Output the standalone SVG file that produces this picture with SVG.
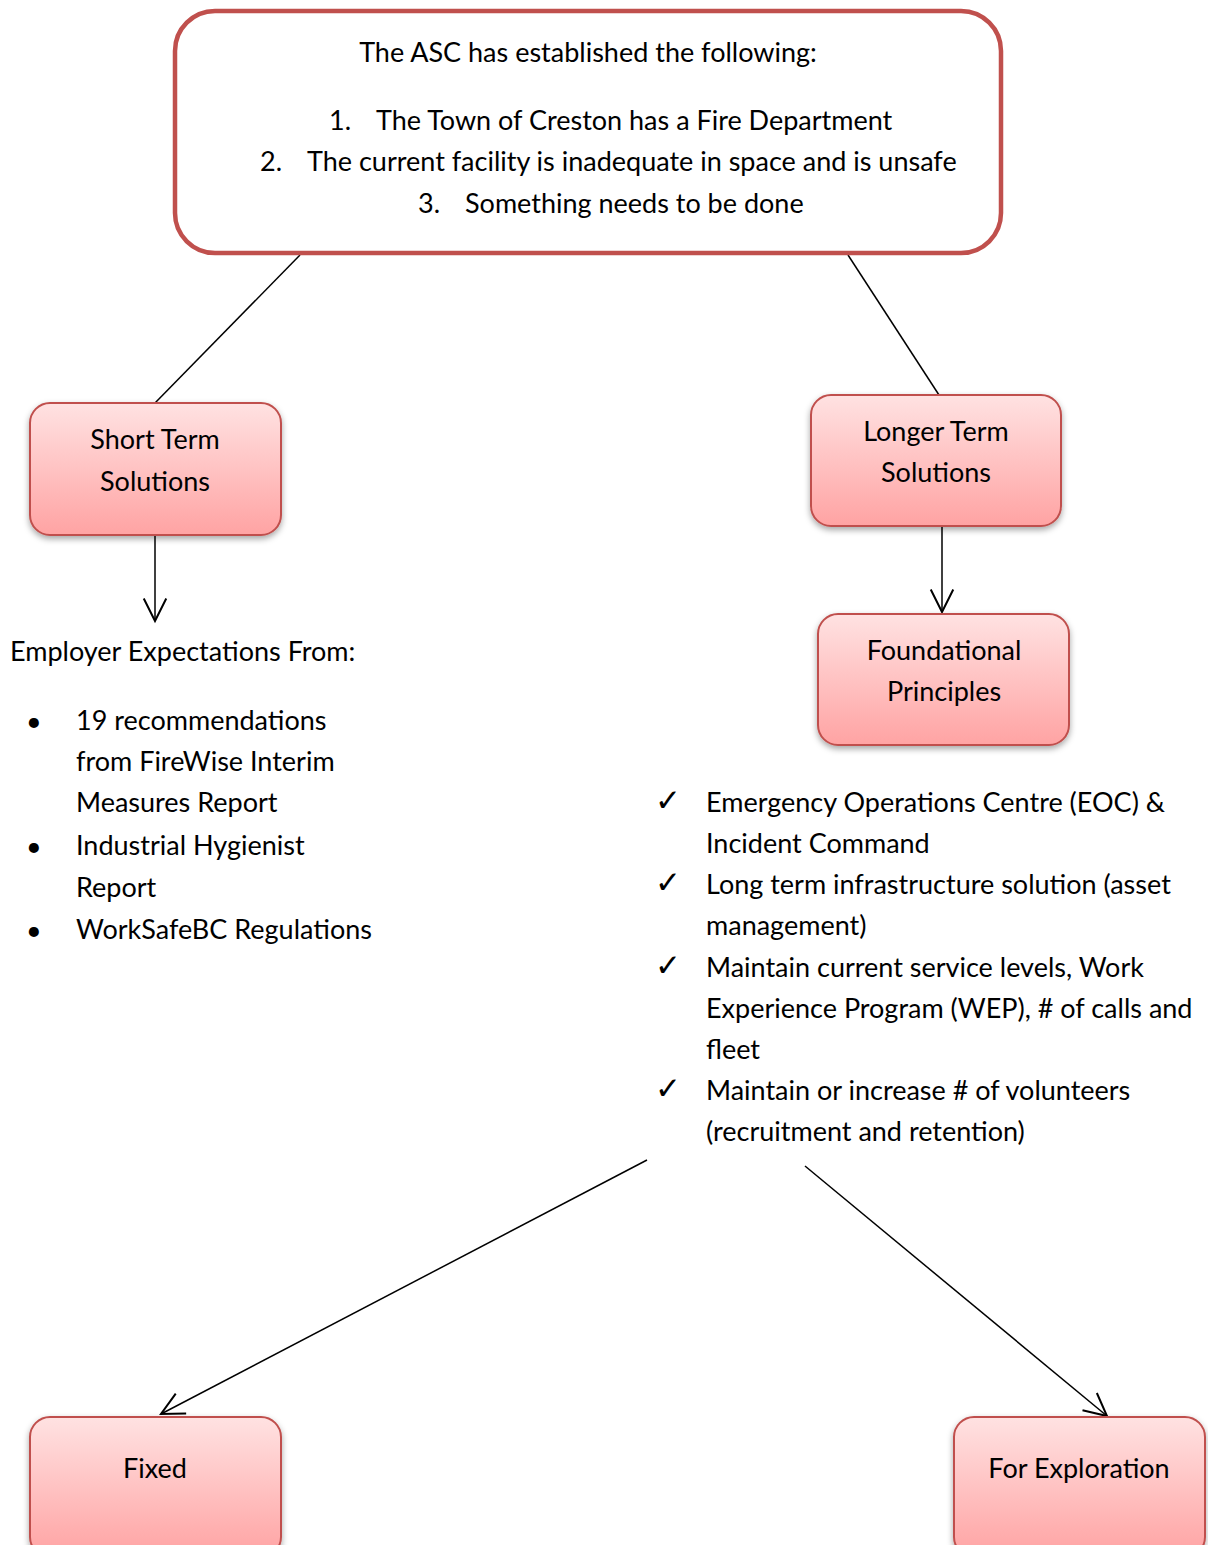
<svg xmlns="http://www.w3.org/2000/svg" width="1208" height="1545" viewBox="0 0 1208 1545">
<defs>
<linearGradient id="pink" x1="0" y1="0" x2="0" y2="1">
<stop offset="0" stop-color="#FFE2E2"/>
<stop offset="1" stop-color="#FFA3A3"/>
</linearGradient>
<filter id="sh" x="-10%" y="-10%" width="120%" height="130%">
<feDropShadow dx="0" dy="3" stdDeviation="3" flood-color="#000" flood-opacity="0.35"/>
</filter>
<marker id="ah" markerUnits="userSpaceOnUse" markerWidth="30" markerHeight="30" viewBox="-20 -12 24 24" refX="0" refY="0" orient="auto">
<path d="M-18,-9 L0,0 L-18,9" fill="none" stroke="#000" stroke-width="1.6"/>
</marker>
<style>
text{font-family:Lato,"Liberation Sans",sans-serif;font-size:27px;fill:#000}
.c{text-anchor:middle}
.ck{font-family:"DejaVu Sans",sans-serif;font-size:31px}
.box{fill:url(#pink);stroke:#C0504D;stroke-width:2;filter:url(#sh)}
.ln{stroke:#000;stroke-width:1.5;fill:none}
</style>
</defs>
<g id="connectors">
<line class="ln" x1="300" y1="255" x2="155" y2="403"/>
<line class="ln" x1="848" y1="255" x2="939" y2="395"/>
<line class="ln" x1="155" y1="535" x2="155" y2="621" marker-end="url(#ah)"/>
<line class="ln" x1="942" y1="526" x2="942" y2="612" marker-end="url(#ah)"/>
<line class="ln" x1="647" y1="1160" x2="161" y2="1414" marker-end="url(#ah)"/>
<line class="ln" x1="805" y1="1166" x2="1107" y2="1416" marker-end="url(#ah)"/>
</g>
<g id="top">
<rect x="175" y="11" width="826" height="242" rx="40" fill="#fff" stroke="#C0504D" stroke-width="4.5"/>
<text x="588" y="62" class="c">The ASC has established the following:</text>
<text x="329" y="130">1.</text><text x="376" y="130">The Town of Creston has a Fire Department</text>
<text x="260" y="171">2.</text><text x="307" y="171">The current facility is inadequate in space and is unsafe</text>
<text x="418" y="213">3.</text><text x="465" y="213">Something needs to be done</text>
</g>
<g id="short">
<rect class="box" x="30" y="403" width="251" height="132" rx="20"/>
<text x="155" y="449" class="c">Short Term</text>
<text x="155" y="491" class="c">Solutions</text>
</g>
<g id="longer">
<rect class="box" x="811" y="395" width="250" height="131" rx="20"/>
<text x="936" y="441" class="c">Longer Term</text>
<text x="936" y="482" class="c">Solutions</text>
</g>
<g id="foundational">
<rect class="box" x="818" y="614" width="251" height="131" rx="20"/>
<text x="944" y="660" class="c">Foundational</text>
<text x="944" y="701" class="c">Principles</text>
</g>
<g id="fixed">
<rect class="box" x="30" y="1417" width="251" height="140" rx="20"/>
<text x="155" y="1478" class="c">Fixed</text>
</g>
<g id="exploration">
<rect class="box" x="954" y="1417" width="251" height="140" rx="20"/>
<text x="1079" y="1478" class="c">For Exploration</text>
</g>
<g id="employer">
<text x="10" y="661">Employer Expectations From:</text>
<text x="26" y="731">•</text><text x="76" y="730">19 recommendations</text>
<text x="76" y="771">from FireWise Interim</text>
<text x="76" y="812">Measures Report</text>
<text x="26" y="856">•</text><text x="76" y="855">Industrial Hygienist</text>
<text x="76" y="897">Report</text>
<text x="26" y="940">•</text><text x="76" y="939">WorkSafeBC Regulations</text>
</g>
<g id="principles">
<text x="655" y="811" class="ck">✓</text><text x="706" y="812">Emergency Operations Centre (EOC) &amp;</text>
<text x="706" y="853">Incident Command</text>
<text x="655" y="893" class="ck">✓</text><text x="706" y="894">Long term infrastructure solution (asset</text>
<text x="706" y="935">management)</text>
<text x="655" y="976" class="ck">✓</text><text x="706" y="977">Maintain current service levels, Work</text>
<text x="706" y="1018">Experience Program (WEP), # of calls and</text>
<text x="706" y="1059">fleet</text>
<text x="655" y="1099" class="ck">✓</text><text x="706" y="1100">Maintain or increase # of volunteers</text>
<text x="706" y="1141">(recruitment and retention)</text>
</g>
</svg>
